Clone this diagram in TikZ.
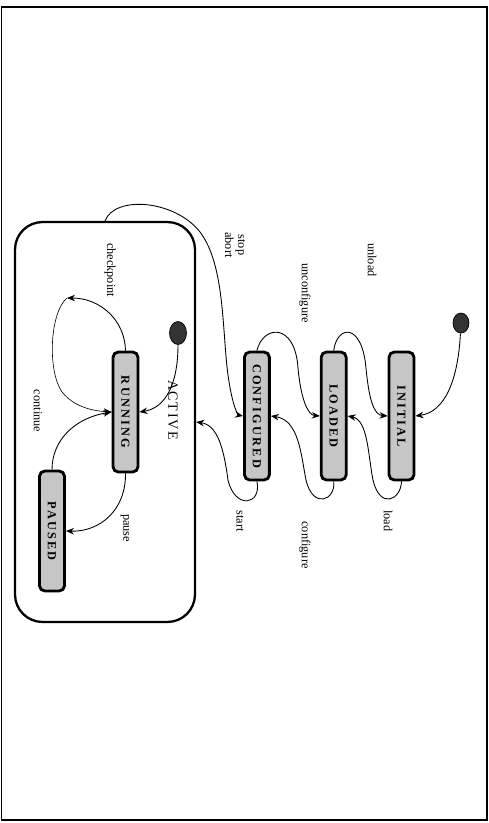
\documentclass[tikz,border=0pt]{standalone}
\usepackage{fontspec}
\setmainfont{Liberation Serif}
\usepackage{tikz}
\usetikzlibrary{shapes.geometric, arrows.meta, positioning}
\tikzset{
  % State diagram styles
  statebox/.style={rectangle, rounded corners=3pt, minimum width=0.5cm, minimum height=2.56cm, inner sep=0pt, draw=black, line width=1.6pt, fill=gray!45, font=\fontsize{7}{8}\selectfont\bfseries\addfontfeature{LetterSpace=18}},
  superstate/.style={rectangle, rounded corners=0.55cm, minimum width=3.6cm, minimum height=8cm, draw=black, line width=1.3pt},
  initdot/.style={ellipse, minimum width=0.32cm, minimum height=0.4cm, inner sep=0pt, draw=black, fill=black!80},
  trans/.style={-{Stealth[length=1.6mm, width=1.3mm]}, line width=0.5pt},
  translabel/.style={rotate=-90, font=\fontsize{7}{7.5}\selectfont, align=center, inner sep=1pt},
}

\begin{document}
\begin{tikzpicture}[x=0.02cm, y=-0.02cm, node distance=0.8cm]
    \useasboundingbox (0,0) rectangle (489,823);
    \draw[line width=0.7pt] (1.5,7) rectangle (487,820);

    % Active superstate
    \node[superstate] (act) at (105,422) {};
    \node[rotate=-90, font=\fontsize{8}{9}\selectfont\addfontfeature{LetterSpace=12}] (actlbl) at (173,410) {ACTIVE};

    % Top-level states
    \node[statebox] (ini) at (401.5,416) {\rotatebox{-90}{INITIAL}};
    \node[statebox, left=0.8cm of ini] (ld) {\rotatebox{-90}{LOADED}};
    \node[statebox, left=0.98cm of ld] (cfg) {\rotatebox{-90}{CONFIGURED}};
    \node[initdot] (ini0) at (461,323) {};

    % Sub-states
    \node[statebox, minimum height=2.4cm] (run) at (125.5,412) {\rotatebox{-90}{RUNNING}};
    \node[statebox, minimum height=2.4cm] (pau) at (52,531) {\rotatebox{-90}{PAUSED}};
    \node[initdot, minimum width=0.34cm, minimum height=0.46cm] (act0) at (178,333) {};
    \coordinate (cp) at (67,298);

    % Transitions
    \draw[trans] (ini0) .. controls (458,380) and (445,412) .. (ini.east);
    \draw[trans] (ld.north) .. controls (337,325) and (362,322) .. (366,368) .. controls (369,400) and (374,415) .. (ini.west);
    \draw[trans] (cfg.north) .. controls (263,325) and (295,322) .. (298,368) .. controls (301,400) and (308,415) .. (ld.west);
    \draw[trans] (act.north) .. controls (115,195) and (175,200) .. (200,232) .. controls (225,265) and (222,330) .. (228,375) .. controls (232,405) and (238,415) .. (cfg.west);
    \draw[trans] (ini.south) .. controls (401,500) and (380,510) .. (373,480) .. controls (368,455) and (368,420) .. (ld.east);
    \draw[trans] (ld.south) .. controls (336,500) and (313,510) .. (306,480) .. controls (301,455) and (299,420) .. (cfg.east);
    \draw[trans] (cfg.south) .. controls (262,505) and (235,510) .. (228,480) .. controls (224,450) and (218,425) .. (act.east);

    % Transitions inside ACTIVE
    \draw[trans] (act0) .. controls (178,385) and (165,408) .. (run.east);
    \draw[trans] (run.north) .. controls (125,320) and (100,298) .. (cp);
    \draw[trans, line width=0.35pt] (cp) .. controls (50,312) and (47,370) .. (62,392) .. controls (75,408) and (95,411) .. (run.west);
    \draw[trans] (pau.north) .. controls (52,440) and (75,418) .. (run.west);
    \draw[trans] (run.south) .. controls (126,510) and (100,532) .. (pau.east);

    % Labels
    \node[translabel] (lunload) at (372,260) {unload};
    \node[translabel] (lunconf) at (305,293) {unconfigure};
    \node[translabel] (lstop) at (235,245) {stop\\abort};
    \node[translabel] (lload) at (388,521) {load};
    \node[translabel] (lconf) at (305,545) {configure};
    \node[translabel] (lstart) at (240,521) {start};
    \node[translabel] (lcheck) at (110,270) {checkpoint};
    \node[translabel] (lcont) at (38,411) {continue};
    \node[translabel] (lpause) at (125,528) {pause};
\end{tikzpicture}
\end{document}
